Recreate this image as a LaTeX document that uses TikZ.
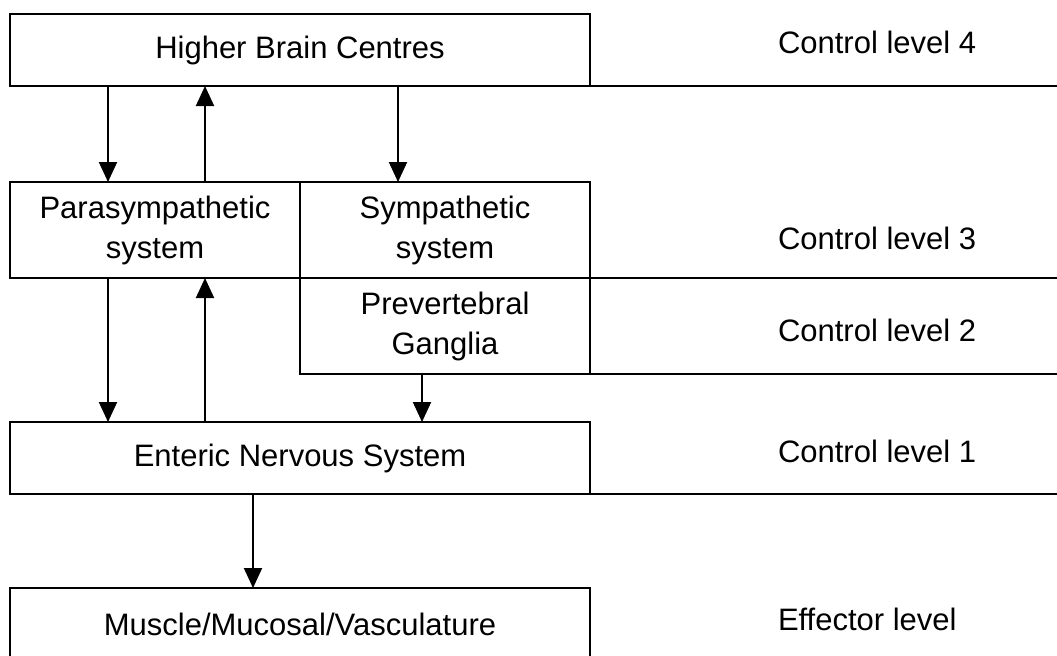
\documentclass[tikz,border=0pt]{standalone}
\usepackage{fontspec}
\setmainfont{Liberation Sans}
\usetikzlibrary{arrows.meta}

\begin{document}
\begin{tikzpicture}[x=0.5pt, y=-0.5pt, line width=1pt,
    font=\fontsize{15.5}{20}\selectfont,
    box/.style={rectangle, draw, inner sep=0pt, outer sep=0pt, align=center},
    wide/.style={box, minimum width=290pt, minimum height=36pt},
    half/.style={box, minimum width=145pt, minimum height=48pt},
    level/.style={anchor=west, inner sep=0pt},
    arr/.style={-{Triangle[width=9pt, length=10pt]}}]
      \useasboundingbox (0,0) rectangle (1057,655);
      \clip (0,0) rectangle (1057,655);
      \coordinate (edge) at (1057,0);
      \coordinate (c1) at (108,0);
      \coordinate (c2) at (205,0);
      \coordinate (c3) at (398,0);
      \coordinate (c4) at (422,0);
      \coordinate (c5) at (253,0);
      % boxes
      \node (hbc) [wide] at (300,50) {Higher Brain Centres};
      \node (para) [half] at (155,230) {Parasympathetic\\system};
      \node (symp) [half] at (445,230) {Sympathetic\\system};
      \node (preg) [half] at (445,326) {Prevertebral\\Ganglia};
      \node (ens) [wide] at (300,458) {Enteric Nervous System};
      \node (msv) [wide] at (300,624) {Muscle/Mucosal/Vasculature};
      % levels
      \node (lvl4) [level] at (777,42) {Control level 4};
      \node (lvl3) [level] at (777,238) {Control level 3};
      \node (lvl2) [level] at (777,330) {Control level 2};
      \node (lvl1) [level] at (777,451) {Control level 1};
      \node (eff) [level] at (777,619) {Effector level};
      \draw (hbc.south east) -- (hbc.south east -| edge);
      \draw (symp.south east) -- (symp.south east -| edge);
      \draw (preg.south east) -- (preg.south east -| edge);
      \draw (ens.south east) -- (ens.south east -| edge);
      % arrows
      \draw [arr] (hbc.south -| c1) -- (para.north -| c1);
      \draw [arr] (para.north -| c2) -- (hbc.south -| c2);
      \draw [arr] (hbc.south -| c3) -- (symp.north -| c3);
      \draw [arr] (para.south -| c1) -- (ens.north -| c1);
      \draw [arr] (ens.north -| c2) -- (para.south -| c2);
      \draw [arr] (preg.south -| c4) -- (ens.north -| c4);
      \draw [arr] (ens.south -| c5) -- (msv.north -| c5);
  \end{tikzpicture}
\end{document}
